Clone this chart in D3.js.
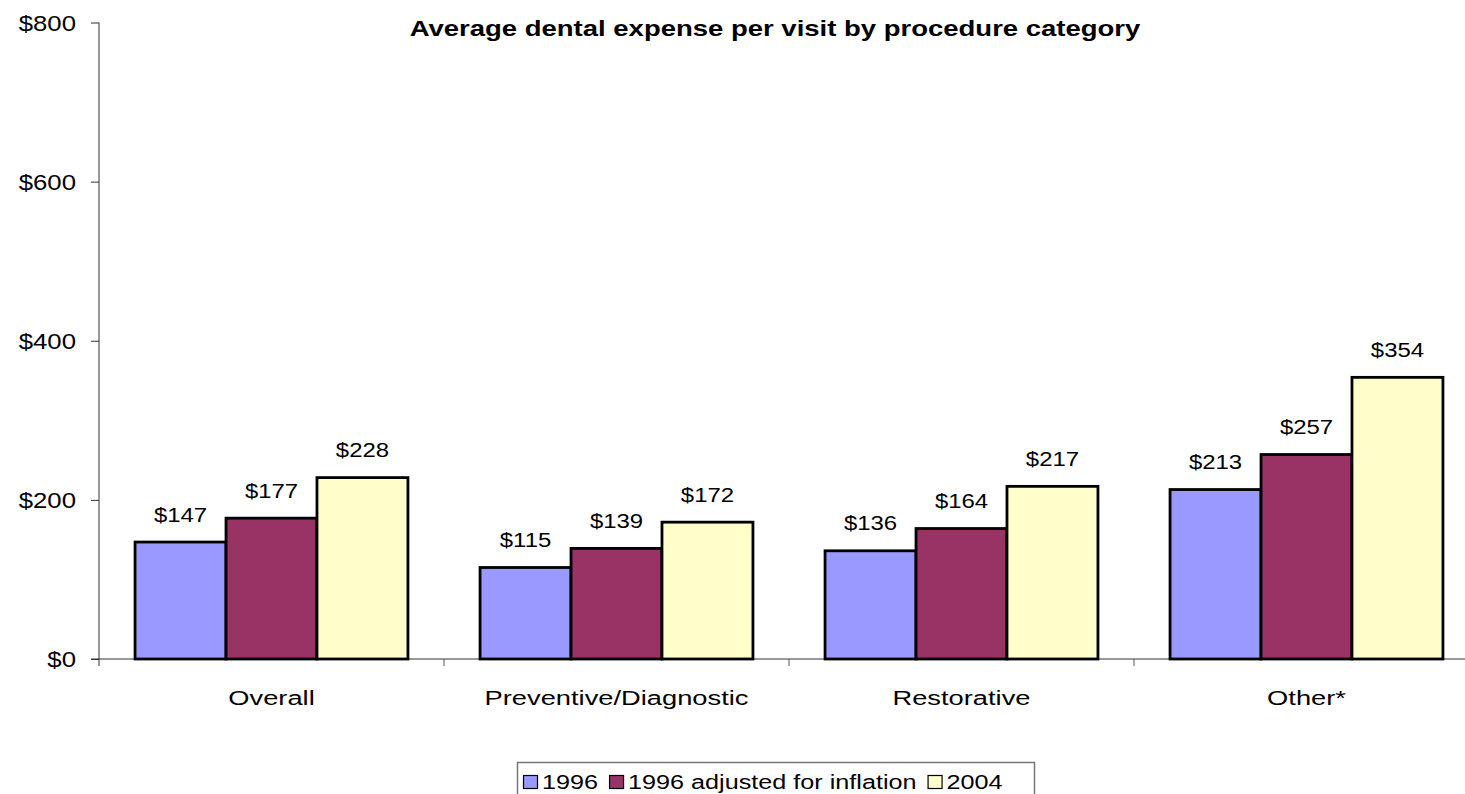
<!DOCTYPE html>
<html><head><meta charset="utf-8">
<script src="https://cdn.jsdelivr.net/npm/d3@7"></script>
<style>body{margin:0;background:#fff}svg{display:block}text{font-family:"Liberation Sans",Arial,sans-serif;fill:#000}</style>
</head><body><svg id="c" width="1465" height="794"></svg>
<script>
const categories = ["Overall", "Preventive/Diagnostic", "Restorative", "Other*"];
const seriesNames = ["1996", "1996 adjusted for inflation", "2004"];
const values1996 = [147, 115, 136, 213];
const valuesAdjusted = [177, 139, 164, 257];
const values2004 = [228, 172, 217, 354];
const yTicks = [0, 200, 400, 600, 800];
const colors = ["#9999FF", "#993366", "#FFFFCC"];
const title = "Average dental expense per visit by procedure category";

(function () {
const allSeries = [values1996, valuesAdjusted, values2004];
const svg = d3.select("#c");
const pLeft = 99, pRight = 1479, pTop = 22.5, pBottom = 659;

const x = d3.scaleBand().domain(categories).range([pLeft, pRight]).paddingInner(0.209).paddingOuter(0.1045);
const xo = d3.scaleBand().domain(seriesNames).range([0, x.bandwidth()]);
const y = d3.scaleLinear().domain([0, 800]).range([pBottom, pTop]);

function addText(g, tx, ty, str, size, sx, anchor, weight) {
  return g.append("text").attr("transform", `translate(${tx},${ty}) scale(${sx},1)`)
    .attr("text-anchor", anchor || "start").style("font-size", size + "px")
    .style("font-weight", weight || "normal").text(str);
}

addText(svg, 775, 36, title, 22, 1.25, "middle", "bold");

const ya = svg.append("g").attr("transform", `translate(${pLeft},0)`)
  .call(d3.axisLeft(y).tickValues(yTicks).tickSize(8).tickFormat(d => "$" + d));
ya.select(".domain").attr("stroke", "#333").attr("d", `M0,${y(800)}V${pBottom + 7}`);
ya.selectAll(".tick line").attr("stroke", "#333");
ya.selectAll(".tick text").attr("x", null).attr("dy", "0.35em").attr("fill", "#000")
  .attr("transform", "translate(-23,0) scale(1.17,1)").style("font-size", "22px");

const xa = svg.append("g").attr("transform", `translate(0,${pBottom})`);
xa.append("line").attr("x1", pLeft - 8).attr("x2", 1465).attr("y1", 0).attr("y2", 0).attr("stroke", "#333");
const step = x.step();
[1, 2, 3].forEach(i => {
  xa.append("line").attr("x1", pLeft + step * i).attr("x2", pLeft + step * i).attr("y1", 0).attr("y2", 7).attr("stroke", "#555");
});
categories.forEach(c => {
  addText(xa, x(c) + x.bandwidth() / 2, 45.5, c, 21, 1.3, "middle");
});

seriesNames.forEach((s, si) => {
  const g = svg.append("g");
  categories.forEach((c, ci) => {
    const v = allSeries[si][ci];
    g.append("rect").attr("x", x(c) + xo(s)).attr("y", y(v)).attr("width", xo.bandwidth()).attr("height", pBottom - y(v))
      .attr("fill", colors[si]).attr("stroke", "#000").attr("stroke-width", 2.8);
  });
});
seriesNames.forEach((s, si) => {
  const g = svg.append("g");
  categories.forEach((c, ci) => {
    const v = allSeries[si][ci];
    addText(g, x(c) + xo(s) + xo.bandwidth() / 2, y(v) - 20.5, "$" + v, 21, 1.14, "middle");
  });
});

const lg = svg.append("g");
const box = lg.append("rect").attr("x", 517.5).attr("y", 762.5).attr("width", 520).attr("height", 50)
  .attr("fill", "#fff").attr("stroke", "#777").attr("stroke-width", 1.5);
let lx = 523;
const lsx = 1.2;
seriesNames.forEach((s, si) => {
  lg.append("rect").attr("x", lx + 0.5).attr("y", 775.5).attr("width", 14).attr("height", 13)
    .attr("fill", colors[si]).attr("stroke", "#000").attr("stroke-width", 1.2);
  const t = addText(lg, lx + 19, 789, s, 21, lsx, "start");
  lx += 19 + t.node().getComputedTextLength() * lsx + 11;
});
box.attr("width", Math.max(lx + 2 - 517.5, 517));
})();
</script></body></html>
